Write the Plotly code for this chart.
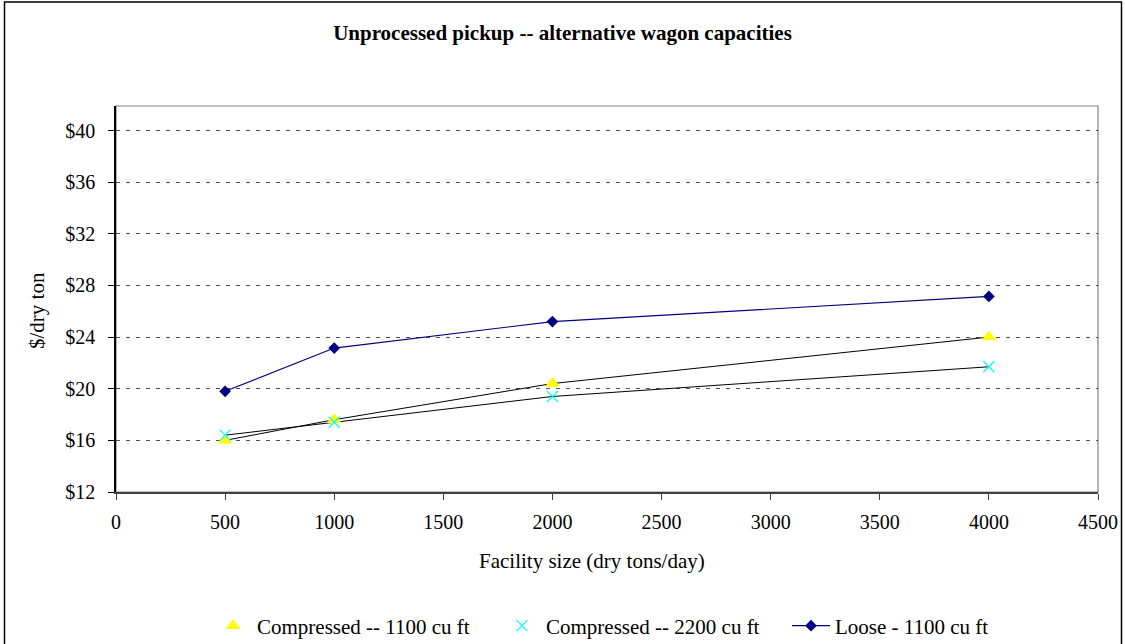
import plotly.graph_objects as go

# Facility sizes (dry tons/day)
facility_size = [500, 1000, 2000, 4000]

# Pickup cost ($/dry ton) by wagon type
compressed_1100 = [16.0, 17.6, 20.4, 24.0]
compressed_2200 = [16.4, 17.4, 19.4, 21.7]
loose_1100 = [19.8, 23.15, 25.2, 27.15]

y_ticks = [12, 16, 20, 24, 28, 32, 36, 40]
y_tick_labels = ["$12", "$16", "$20", "$24", "$28", "$32", "$36", "$40"]
x_ticks = [0, 500, 1000, 1500, 2000, 2500, 3000, 3500, 4000, 4500]

SERIF = "Liberation Serif"
W, H = 1125, 644
L, R, T, B = 116, 27, 106, 152
PW, PH = W - L - R, H - T - B


def px_x(px):
    return (px - L) / PW


def px_y(py):
    return (H - B - py) / PH


fig = go.Figure()

# thin black connectors for the two compressed series
for ys in (compressed_1100, compressed_2200):
    fig.add_trace(go.Scatter(
        x=facility_size, y=ys, mode="lines",
        line=dict(color="black", width=1),
        showlegend=False, hoverinfo="skip",
    ))

fig.add_trace(go.Scatter(
    x=facility_size, y=compressed_1100, mode="markers",
    name="Compressed -- 1100 cu ft",
    marker=dict(symbol="triangle-up", size=13, color="#FFFF00",
                line=dict(width=0)),
))
fig.add_trace(go.Scatter(
    x=facility_size, y=compressed_2200, mode="markers",
    name="Compressed -- 2200 cu ft",
    marker=dict(symbol="x-thin", size=11, color="#00FFFF",
                line=dict(width=1.2, color="#00FFFF")),
))
fig.add_trace(go.Scatter(
    x=facility_size, y=loose_1100, mode="lines+markers",
    name="Loose - 1100 cu ft",
    line=dict(color="#000080", width=1.2),
    marker=dict(symbol="diamond", size=9, color="#000080"),
))

fig.update_layout(
    width=W, height=H,
    margin=dict(l=L, r=R, t=T, b=B, autoexpand=False),
    paper_bgcolor="white", plot_bgcolor="white",
    font=dict(family=SERIF, size=20, color="black"),
    title=dict(
        text="<b>Unprocessed pickup -- alternative wagon capacities</b>",
        x=0.5, xref="container", xanchor="center",
        y=1 - 33 / H, yref="container", yanchor="middle",
        font=dict(family=SERIF, size=21, color="black"),
    ),
    xaxis=dict(
        range=[0, 4500], tickvals=x_ticks, ticks="outside", ticklen=6,
        tickcolor="#404040", showgrid=False, zeroline=False,
        showline=True, linecolor="#404040", linewidth=1.5,
        tickfont=dict(family=SERIF, size=20), ticklabelstandoff=5,
        automargin=False,
    ),
    yaxis=dict(
        range=[12, 41.9], tickvals=y_ticks, ticktext=y_tick_labels,
        ticks="outside", ticklen=6, tickcolor="black",
        showgrid=True, gridcolor="#505050", gridwidth=1, griddash="4px,6px",
        zeroline=False, showline=True, linecolor="black", linewidth=1.5,
        tickfont=dict(family=SERIF, size=20), ticklabelstandoff=9,
        automargin=False,
    ),
    annotations=[
        dict(text="Facility size (dry tons/day)", xref="paper", yref="paper",
             x=px_x(592), y=px_y(561), xanchor="center", yanchor="middle",
             showarrow=False, font=dict(family=SERIF, size=21)),
        dict(text="$/dry ton", xref="paper", yref="paper",
             x=px_x(37), y=px_y(311), xanchor="center", yanchor="middle",
             textangle=-90, showarrow=False,
             font=dict(family=SERIF, size=21)),
    ],
    legend=dict(
        orientation="h", x=px_x(209), xanchor="left",
        y=px_y(626), yanchor="middle",
        font=dict(family=SERIF, size=21),
        bgcolor="rgba(0,0,0,0)", entrywidth=236, itemwidth=38,
    ),
    shapes=[
        # plot-area frame
        dict(type="rect", xref="paper", yref="paper", x0=0, x1=1, y0=0, y1=1,
             line=dict(color="#808080", width=1.2), layer="below"),
        # outer chart border
        dict(type="rect", xref="paper", yref="paper",
             x0=px_x(4.5), x1=px_x(1121.5), y0=px_y(660), y1=px_y(2),
             line=dict(color="black", width=1.5)),
    ],
)

fig.write_html("out.html")
